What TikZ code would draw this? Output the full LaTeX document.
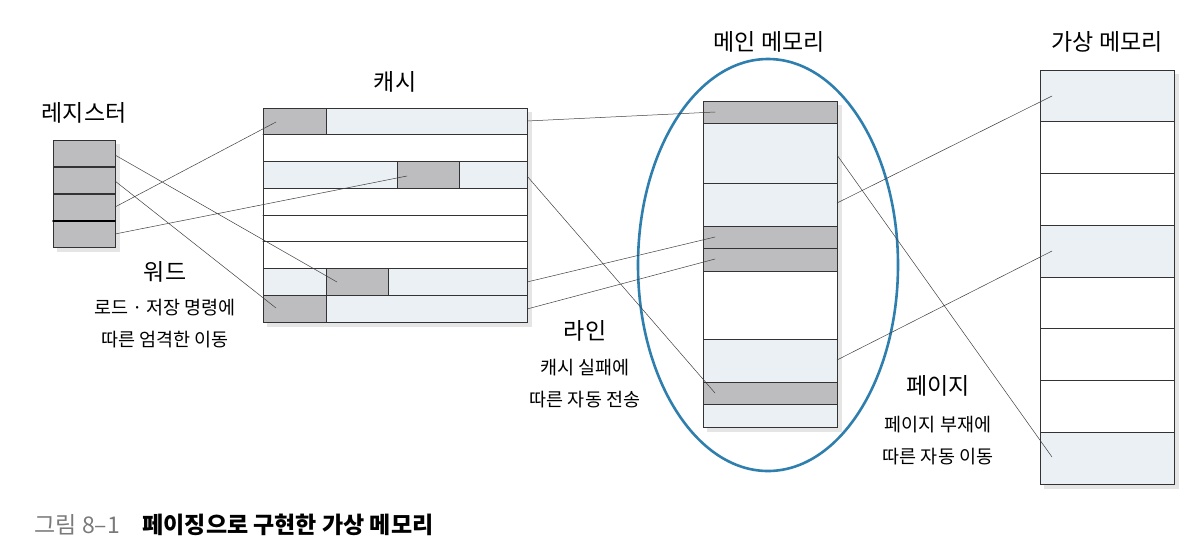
\documentclass[tikz,border=0pt]{standalone}
\usepackage{fontspec}
\setmainfont{Noto Sans CJK KR}
\usetikzlibrary{positioning}
\definecolor{cellgray}{HTML}{BDBDBF}
\definecolor{celllight}{HTML}{EBF0F5}
\definecolor{ovalblue}{HTML}{2F7FAE}
\definecolor{capgray}{HTML}{7A7A7A}
\begin{document}
\begin{tikzpicture}[x=1pt,y=-1pt,line cap=round,
  cell/.style={draw=black!80,line width=0.9pt},
  grayc/.style={cell,fill=cellgray},
  lightc/.style={cell,fill=celllight},
  whitec/.style={cell,fill=white},
  shade/.style={fill=black,opacity=0.10},
  link/.style={draw=black!75,line width=0.5pt},
  title/.style={font=\fontsize{23}{26}\selectfont},
  note/.style={font=\fontsize{18.5}{32}\selectfont,align=center}]
\useasboundingbox (0,0) rectangle (1202,558);
% shadows
\fill[shade] (57,144) rectangle (120,252);
\fill[shade] (267,112) rectangle (532,327);
\fill[shade] (707,105) rectangle (842,432);
\fill[shade] (1044,74) rectangle (1179,489);
% registers
\foreach \y in {140,167,194,221}
  \draw[grayc] (53,\y) rectangle ++(62,26.5);
\draw[line width=1.8pt] (53,221)--(115,221);
% cache
\draw[whitec] (263,108) rectangle (527,322);
\draw[grayc] (263,108) rectangle (326,134.75);
\draw[lightc] (326,108) rectangle (527,134.75);
\draw[lightc] (263,161.5) rectangle (397,188.25);
\draw[grayc] (397,161.5) rectangle (459,188.25);
\draw[lightc] (459,161.5) rectangle (527,188.25);
\foreach \y in {134.75,215,241.75}
  \draw[cell] (263,\y)--(527,\y);
\draw[lightc] (263,268.5) rectangle (326,295.25);
\draw[grayc] (326,268.5) rectangle (388,295.25);
\draw[lightc] (388,268.5) rectangle (527,295.25);
\draw[grayc] (263,295.25) rectangle (326,322);
\draw[lightc] (326,295.25) rectangle (527,322);
% main memory
\foreach \a/\b/\s in {101/123/grayc,123/183/lightc,183/226/lightc,226/248/grayc,
  248/271/grayc,271/339/whitec,339/382/lightc,382/404/grayc,404/427/lightc}
  \draw[\s] (703,\a) rectangle (837,\b);
% virtual memory
\foreach \k/\s in {0/lightc,1/whitec,2/whitec,3/lightc,4/whitec,5/whitec,6/whitec,7/lightc}
  \draw[\s] (1040,70+\k*51.75) rectangle ++(134,51.75);
% oval round main memory
\draw[ovalblue,line width=2.6pt] (768,265) ellipse [x radius=130,y radius=206];
% end points
\coordinate (ra) at (115,155);  \coordinate (rb) at (115,181);
\coordinate (rc) at (115,207);  \coordinate (rd) at (115,234);
\coordinate (c1) at (276,122);  \coordinate (c3) at (407,176);
\coordinate (c7) at (337,282);  \coordinate (c8) at (276,308);
\coordinate (cr1) at (527,121); \coordinate (cr3) at (527,176);
\coordinate (cr7) at (527,282); \coordinate (cr8) at (527,309);
\coordinate (m1) at (715,112);  \coordinate (m4) at (715,237);
\coordinate (m5) at (715,259);  \coordinate (m8) at (715,393);
\coordinate (mr2) at (837,155); \coordinate (mr3) at (837,203);
\coordinate (mr7) at (837,360);
\coordinate (v1) at (1052,96);  \coordinate (v4) at (1052,251);
\coordinate (v8) at (1052,457);
% links
\draw[link] (ra)--(c7) (rb)--(c8) (rc)--(c1) (rd)--(c3);
\draw[link] (cr1)--(m1) (cr3)--(m8) (cr7)--(m4) (cr8)--(m5);
\draw[link] (mr2)--(v8) (mr3)--(v1) (mr7)--(v4);
% labels
\node[title] (reglbl) at (84,113) {레지스터};
\node[title] (cachelbl) at (395,82) {캐시};
\node[title] (mainlbl) at (769,42) {메인 메모리};
\node[title] (virtlbl) at (1107,42) {가상 메모리};
\node[title] (word) at (165,272) {워드};
\node[note] (wordnote) at (165,324) {로드 · 저장 명령에\\따른 엄격한 이동};
\node[title] (line) at (585,331) {라인};
\node[note] (linenote) at (585,384) {캐시 실패에\\따른 자동 전송};
\node[title] (page) at (938,386) {페이지};
\node[note] (pagenote) at (938,441) {페이지 부재에\\따른 자동 이동};
\node[font=\fontsize{23}{26}\selectfont,text=capgray,anchor=west] (fignum) at (31,525) {그림 8–1};
\node[font=\fontsize{23}{26}\selectfont\bfseries,anchor=west] (figtitle) at (139,525) {페이징으로 구현한 가상 메모리};
\end{tikzpicture}
\end{document}
